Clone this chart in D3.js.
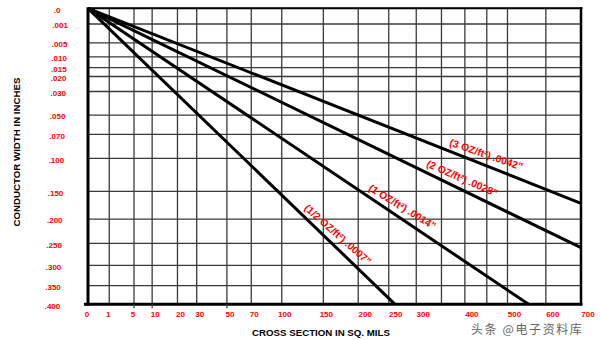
<!DOCTYPE html>
<html>
<head>
<meta charset="utf-8">
<script src="https://cdn.jsdelivr.net/npm/d3@7"></script>
<style>
  html, body { margin: 0; padding: 0; background: #fff; }
  svg { display: block; }
</style>
</head>
<body>
<script>
// ---------------- data ----------------
const xGridValues = [0, 1, 5, 10, 20, 30, 50, 70, 100, 150, 200, 250, 300, 350, 400, 450, 500, 600, 700];
const xTickValues = [0, 1, 5, 10, 20, 30, 50, 70, 100, 150, 200, 250, 300, 400, 500, 600, 700];
const yGridValues = [0, 0.001, 0.005, 0.010, 0.015, 0.020, 0.030, 0.050, 0.070, 0.100, 0.150, 0.200, 0.250, 0.300, 0.350, 0.400];
const yTickLabels = [".0", ".001", ".005", ".010", ".015", ".020", ".030", ".050", ".070", ".100", ".150", ".200", ".250", ".300", ".350", ".400"];

const copperWeights = ["1/2", "1", "2", "3"];
const thicknessLabels = [".0007", ".0014", ".0028", ".0042"];
// end point of each line: cross section (sq. mils), conductor width (inches)
const endCross = [261, 554, 700, 700];
const endWidth = [0.400, 0.400, 0.2594, 0.1707];

// ---------------- layout ----------------
const W = 601, H = 340;
const svg = d3.select("body").append("svg").attr("width", W).attr("height", H);

const x = d3.scalePow().exponent(0.48).domain([0, 700]).range([88, 581]);
const y = d3.scalePow().exponent(0.49).domain([0, 0.4]).range([8.3, 304.3]);

const gridColor = "#3a3a3a";

// grid
svg.append("g").selectAll("line").data(xGridValues).join("line")
  .attr("x1", d => x(d)).attr("x2", d => x(d))
  .attr("y1", y(0)).attr("y2", y(0.4))
  .attr("stroke", gridColor).attr("stroke-width", 1.3);

svg.append("g").selectAll("line").data(yGridValues).join("line")
  .attr("x1", x(0)).attr("x2", x(700))
  .attr("y1", d => y(d)).attr("y2", d => y(d))
  .attr("stroke", gridColor).attr("stroke-width", 1.3);

// frame
svg.append("line").attr("x1", x(0)).attr("x2", x(700) + 1.5).attr("y1", y(0)).attr("y2", y(0))
  .attr("stroke", "#000").attr("stroke-width", 2);
svg.append("line").attr("x1", x(700)).attr("x2", x(700)).attr("y1", y(0) - 1).attr("y2", y(0.4) + 1)
  .attr("stroke", "#000").attr("stroke-width", 2.5);
svg.append("line").attr("x1", x(0)).attr("x2", x(0)).attr("y1", y(0) - 1).attr("y2", y(0.4) + 1.5)
  .attr("stroke", "#000").attr("stroke-width", 3);
svg.append("line").attr("x1", x(0) - 4).attr("x2", x(700) + 1.5).attr("y1", y(0.4)).attr("y2", y(0.4))
  .attr("stroke", "#000").attr("stroke-width", 3);

// small ticks below axis
svg.append("g").selectAll("line").data([5, 10, 50]).join("line")
  .attr("x1", d => x(d)).attr("x2", d => x(d))
  .attr("y1", y(0.4)).attr("y2", y(0.4) + 4)
  .attr("stroke", gridColor).attr("stroke-width", 1.2);

// conductor lines
const series = copperWeights.map((w, i) => ({
  w, t: thicknessLabels[i],
  pts: [[0, 0], [endCross[i], endWidth[i]]]
}));

const lineGen = d3.line().x(d => x(d[0])).y(d => y(d[1]));
svg.append("g").selectAll("path").data(series).join("path")
  .attr("d", d => lineGen(d.pts))
  .attr("fill", "none").attr("stroke", "#000").attr("stroke-width", 3);

// series labels
const labelT = [0.79, 0.70, 0.75, 0.80];
const labelOffset = 10.5;
svg.append("g").selectAll("text").data(series).join("text")
  .each(function (d, i) {
    const x0 = x(d.pts[0][0]), y0 = y(d.pts[0][1]);
    const x1 = x(d.pts[1][0]), y1 = y(d.pts[1][1]);
    const ang = Math.atan2(y1 - y0, x1 - x0);
    const fx = x0 + (x1 - x0) * labelT[i], fy = y0 + (y1 - y0) * labelT[i];
    const cx = fx + Math.sin(ang) * labelOffset, cy = fy - Math.cos(ang) * labelOffset;
    const deg = ang * 180 / Math.PI - 2.5;
    d3.select(this)
      .attr("transform", `translate(${cx},${cy}) rotate(${deg})`)
      .attr("text-anchor", "middle").attr("dy", "0.35em");
  })
  .attr("font-family", "'Liberation Sans', Arial, sans-serif")
  .attr("font-weight", "bold").attr("font-size", 10.3)
  .attr("fill", "#ff0000")
  .text(d => `(${d.w} OZ/ft²) ${d.t}”`);

// y tick labels
svg.append("g").selectAll("text").data(yGridValues).join("text")
  .attr("x", (d, i) => (i === 0 ? 57 : 60.5 - 8 * (y(d) - 8) / 296))
  .attr("y", d => y(d) + 1.5)
  .attr("dy", "0.35em")
  .attr("text-anchor", "middle")
  .attr("font-family", "'Liberation Sans', Arial, sans-serif")
  .attr("font-weight", "bold").attr("font-size", 8)
  .attr("fill", "#ff0000")
  .text((d, i) => yTickLabels[i]);

// x tick labels
svg.append("g").selectAll("text").data(xTickValues).join("text")
  .attr("x", d => x(d) + (d >= 200 ? 7 : d >= 10 ? 3 : -1))
  .attr("y", 316.5)
  .attr("text-anchor", "middle")
  .attr("font-family", "'Liberation Sans', Arial, sans-serif")
  .attr("font-weight", "bold").attr("font-size", 8)
  .attr("fill", "#ff0000")
  .text(d => d);

// axis titles
svg.append("text")
  .attr("x", 321).attr("y", 336)
  .attr("text-anchor", "middle")
  .attr("font-family", "'Liberation Sans', Arial, sans-serif")
  .attr("font-weight", "bold").attr("font-size", 9.7)
  .attr("fill", "#000")
  .text("CROSS SECTION IN SQ. MILS");

svg.append("text")
  .attr("transform", "translate(20,152) rotate(-90)")
  .attr("text-anchor", "middle")
  .attr("font-family", "'Liberation Sans', Arial, sans-serif")
  .attr("font-weight", "bold").attr("font-size", 9.7)
  .attr("fill", "#000")
  .text("CONDUCTOR WIDTH IN INCHES");

// watermark
svg.append("text")
  .attr("x", 471).attr("y", 333.5)
  .attr("font-family", "'Noto Sans CJK SC', sans-serif")
  .attr("font-size", 12)
  .attr("letter-spacing", 1.6)
  .attr("fill", "#666")
  .text("头条 @电子资料库");
</script>
</body>
</html>
